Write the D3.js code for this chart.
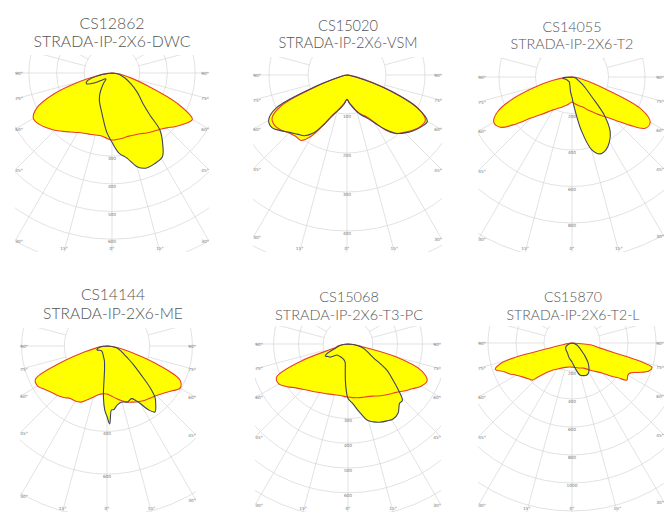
<!DOCTYPE html>
<meta charset="utf-8">
<html>
<head>
<title>Polar photometric diagrams</title>
<script src="https://cdn.jsdelivr.net/npm/d3@7"></script>
<style>
    body { margin: 0; background: #fff; }
    svg { display: block; }
    .title { font-family: Lato, "DejaVu Sans", sans-serif; font-weight: 300; fill: #555; text-anchor: middle; }
    .ring { fill: none; stroke: #d6d6d6; stroke-width: .7px; }
    .spoke { stroke: #d6d6d6; stroke-width: .7px; }
    .lbl { font-family: "DejaVu Sans", sans-serif; font-size: 4.3px; fill: #777; text-anchor: middle; }
    .fill { fill: #ffff00; stroke: none; }
    .c0 { fill: none; stroke: #e8402a; stroke-width: 1.1px; }
    .c90 { fill: none; stroke: #3e4463; stroke-width: 1.1px; }
</style>
</head>
<body>
<svg width="665" height="515"></svg>
<script>
    // ---- data: luminaire codes, names, ring step (cd) and two intensity planes [gamma, cd]
    const codes = ["CS12862", "CS15020", "CS14055", "CS14144", "CS15068", "CS15870"]
    const names = ["STRADA-IP-2X6-DWC", "STRADA-IP-2X6-VSM", "STRADA-IP-2X6-T2",
                   "STRADA-IP-2X6-ME", "STRADA-IP-2X6-T3-PC", "STRADA-IP-2X6-T2-L"]
    const ringSteps = [100, 100, 200, 200, 100, 200]

    const c0_CS12862 = [[-90,0],[-85,15],[-80,48],[-75,120],[-70,225],[-65,300],[-60,328],[-55,322],[-50,308],[-45,292],[-40,275],[-35,260],[-30,248],[-25,240],[-20,235],[-15,232],[-10,230],[-5,236],[0,242],[5,240],[10,238],[15,236],[20,238],[25,242],[30,250],[35,258],[40,266],[45,280],[50,300],[55,320],[60,335],[65,260],[70,140],[75,75],[80,40],[85,18],[90,0]]
    const c90_CS12862 = [[-90,0],[-80,45],[-72,95],[-67,100],[-60,70],[-55,45],[-50,32],[-45,31],[-40,45],[-35,65],[-30,88],[-25,108],[-20,125],[-15,145],[-10,175],[-5,215],[0,250],[5,290],[10,312],[15,350],[20,365],[25,362],[31,353],[35,320],[40,269],[42,205],[45,160],[50,128],[53,113],[60,80],[69,50],[80,25],[90,0]]

    const c0_CS15020 = [[-90,0],[-80,5],[-75,18],[-70,75],[-65,185],[-60,222],[-55,226],[-50,220],[-45,210],[-40,205],[-35,205],[-30,180],[-25,140],[-20,110],[-15,95],[-10,82],[-5,72],[0,62],[5,72],[10,82],[15,95],[20,108],[25,118],[30,140],[35,172],[40,196],[45,208],[50,220],[55,230],[60,232],[65,200],[70,120],[75,50],[80,12],[85,4],[90,0]]
    const c90_CS15020 = [[-90,0],[-80,5],[-75,20],[-70,85],[-65,200],[-60,232],[-55,235],[-50,222],[-45,208],[-40,198],[-35,190],[-30,172],[-25,140],[-20,112],[-15,96],[-10,84],[-5,73],[0,63],[5,73],[10,84],[15,97],[20,110],[25,122],[30,142],[35,170],[40,195],[45,210],[50,222],[55,232],[60,238],[65,198],[70,115],[75,42],[80,10],[90,0]]

    const c0_CS14055 = [[-90,0],[-85,40],[-80,110],[-75,205],[-70,340],[-65,450],[-60,495],[-55,480],[-50,400],[-45,318],[-40,270],[-35,235],[-30,208],[-25,190],[-20,178],[-15,165],[-10,156],[-5,145],[0,137],[5,145],[10,155],[15,165],[20,175],[25,198],[30,220],[35,250],[40,285],[45,335],[50,410],[55,490],[60,495],[65,420],[70,200],[75,95],[80,45],[85,20],[90,0]]
    const c90_CS14055 = [[-90,0],[-85,50],[-80,50],[-75,40],[-70,35],[-60,32],[-50,30],[-40,30],[-30,30],[-20,38],[-10,60],[-5,85],[0,112],[5,180],[10,300],[15,410],[20,448],[25,440],[30,410],[35,365],[40,280],[45,155],[50,100],[55,70],[60,45],[70,25],[80,10],[90,0]]

    const c0_CS14144 = [[-90,0],[-85,20],[-80,50],[-75,110],[-70,234],[-65,370],[-60,375],[-55,355],[-50,338],[-45,328],[-40,315],[-35,300],[-30,298],[-25,290],[-20,268],[-15,248],[-10,232],[-5,225],[0,225],[5,235],[10,250],[15,265],[20,280],[25,290],[30,300],[35,310],[40,318],[45,328],[50,345],[55,368],[60,395],[65,377],[70,250],[75,126],[80,60],[85,25],[90,0]]
    const c90_CS14144 = [[-90,0],[-85,25],[-80,35],[-75,45],[-70,50],[-65,48],[-60,40],[-50,35],[-40,35],[-30,40],[-20,50],[-10,70],[-6,110],[-4,240],[-2,300],[0,330],[2,365],[4,300],[6,300],[10,280],[15,272],[20,279],[25,272],[28,290],[30,310],[33,356],[36,382],[40,355],[43,330],[46,280],[50,205],[55,150],[60,110],[65,85],[70,70],[80,45],[90,0]]

    const c0_CS15068 = [[-90,0],[-85,20],[-80,40],[-75,50],[-70,200],[-65,318],[-60,322],[-55,300],[-50,275],[-45,258],[-40,245],[-35,235],[-30,226],[-25,220],[-20,215],[-15,212],[-10,210],[-5,211],[0,214],[5,217],[10,220],[15,223],[20,226],[25,232],[30,242],[35,252],[40,263],[45,276],[50,295],[55,315],[60,340],[65,352],[70,315],[75,200],[80,50],[85,15],[90,0]]
    const c90_CS15068 = [[-90,0],[-80,30],[-70,60],[-65,95],[-62,104],[-58,95],[-54,90],[-50,75],[-45,63],[-35,60],[-23,61],[-15,65],[-9,74],[-6,106],[-4,150],[-2,190],[0,220],[4,238],[10,282],[14,316],[18,330],[22,340],[27,348],[31,353],[36,344],[41,317],[44,316],[48,270],[52,225],[56,189],[62,114],[68,85],[75,63],[82,35],[90,0]]

    const c0_CS15870 = [[-90,0],[-85,20],[-80,60],[-77,200],[-76,400],[-74,530],[-71,580],[-67,525],[-64,500],[-60,460],[-55,425],[-50,400],[-47,389],[-45,343],[-40,270],[-35,235],[-25,200],[-15,180],[-5,172],[0,172],[5,175],[15,185],[25,198],[35,240],[45,303],[50,370],[53,413],[56,473],[60,460],[63,470],[66,518],[70,585],[73,597],[75,500],[77,310],[80,200],[84,140],[90,0]]
    const c90_CS15870 = [[-90,0],[-70,30],[-55,55],[-40,66],[-30,72],[-18,90],[-10,110],[0,136],[7,180],[14,236],[20,248],[25,252],[30,240],[35,210],[39,183],[45,130],[48,106],[55,70],[68,38],[80,15],[90,0]]

    const planes0 = [c0_CS12862, c0_CS15020, c0_CS14055, c0_CS14144, c0_CS15068, c0_CS15870]
    const planes90 = [c90_CS12862, c90_CS15020, c90_CS14055, c90_CS14144, c90_CS15068, c90_CS15870]

    // ---- layout of the six diagrams (pixels)
    const panels = [
        {cx:112, cy:73,  px:27.7, x0:15,  x1:209, y0:55,  y1:252, tx:112, t1:29,  t2:47,  w2:157},
        {cx:347, cy:75,  px:39,   x0:253, x1:442, y0:57,  y1:252, tx:348, t1:31,  t2:48,  w2:139},
        {cx:572, cy:77,  px:36.5, x0:478, x1:664, y0:58,  y1:252, tx:572, t1:32,  t2:49,  w2:123},
        {cx:107, cy:346, px:42.7, x0:20,  x1:196, y0:328, y1:512, tx:113, t1:300, t2:319, w2:140},
        {cx:348, cy:344, px:24.8, x0:255, x1:441, y0:326, y1:512, tx:349, t1:302, t2:320, w2:148},
        {cx:572, cy:343, px:28,   x0:478, x1:664, y0:326, y1:512, tx:573, t1:302, t2:320, w2:133}
    ]

    const svg = d3.select("svg")
    const rad = Math.PI / 180

    panels.forEach(function (p, i) {
        const r = d3.scaleLinear().domain([0, ringSteps[i]]).range([0, p.px])

        // clip for the grid
        svg.append("clipPath").attr("id", "clip" + i)
            .append("rect")
            .attr("x", p.x0).attr("y", p.y0)
            .attr("width", p.x1 - p.x0).attr("height", p.y1 - p.y0)

        const grid = svg.append("g").attr("clip-path", `url(#clip${i})`)
            .append("g").attr("transform", `translate(${p.cx},${p.cy})`)

        const rings = d3.range(1, 16).map(k => k * ringSteps[i])
        grid.selectAll("circle").data(rings).enter().append("circle")
            .attr("class", "ring").attr("r", d => r(d))

        const spokes = d3.range(0, 360, 15)
        grid.selectAll("line").data(spokes).enter().append("line")
            .attr("class", "spoke")
            .attr("x1", d => r(ringSteps[i]) * Math.sin(d * rad))
            .attr("y1", d => r(ringSteps[i]) * Math.cos(d * rad))
            .attr("x2", d => 400 * Math.sin(d * rad))
            .attr("y2", d => 400 * Math.cos(d * rad))

        // ring labels along 0 deg
        svg.append("g").selectAll("text")
            .data(rings.filter(d => p.cy + r(d) + 4 < p.y1))
            .enter().append("text").attr("class", "lbl")
            .attr("x", p.cx).attr("y", d => p.cy + r(d) + 4)
            .text(d => d)

        // angle labels where the spokes meet the frame
        const angles = d3.range(-90, 91, 15)
        svg.append("g").selectAll("text")
            .data(angles).enter().append("text").attr("class", "lbl")
            .each(function (g) {
                const sx = Math.sin(g * rad), sy = Math.cos(g * rad)
                const tSide = sx === 0 ? Infinity : (sx < 0 ? (p.cx - p.x0) : (p.x1 - p.cx)) / Math.abs(sx)
                const tBot = sy <= 1e-6 ? Infinity : (p.y1 - p.cy) / sy
                let x, y
                if (tSide < tBot) {
                    x = sx < 0 ? p.x0 + 4 : p.x1 - 4
                    y = p.cy + tSide * sy + 1.5
                } else {
                    x = p.cx + tBot * sx
                    y = p.y1 - 2
                }
                d3.select(this).attr("x", x).attr("y", y).text(Math.abs(g) + "°")
            })

        // intensity curves
        const line = d3.lineRadial()
            .angle(d => Math.PI - d[0] * rad)
            .radius(d => r(d[1]))
            .curve(d3.curveCatmullRom.alpha(0.5))

        const plot = svg.append("g").attr("transform", `translate(${p.cx},${p.cy})`)
        plot.append("path").attr("class", "fill").attr("d", line(planes0[i]) + "Z")
        plot.append("path").attr("class", "fill").attr("d", line(planes90[i]) + "Z")
        plot.append("path").attr("class", "c0").attr("d", line(planes0[i]) + "Z")
        plot.append("path").attr("class", "c90").attr("d", line(planes90[i]) + "Z")

        // titles: one size per diagram, taken from the width of the second line
        const t2 = svg.append("text").attr("class", "title")
            .attr("x", p.tx).attr("y", p.t2).style("font-size", "16px").text(names[i])
        const size = 16 * p.w2 / t2.node().getComputedTextLength()
        t2.style("font-size", size + "px")
        svg.append("text").attr("class", "title")
            .attr("x", p.tx).attr("y", p.t1).style("font-size", size + "px").text(codes[i])
    })
</script>
</body>
</html>
